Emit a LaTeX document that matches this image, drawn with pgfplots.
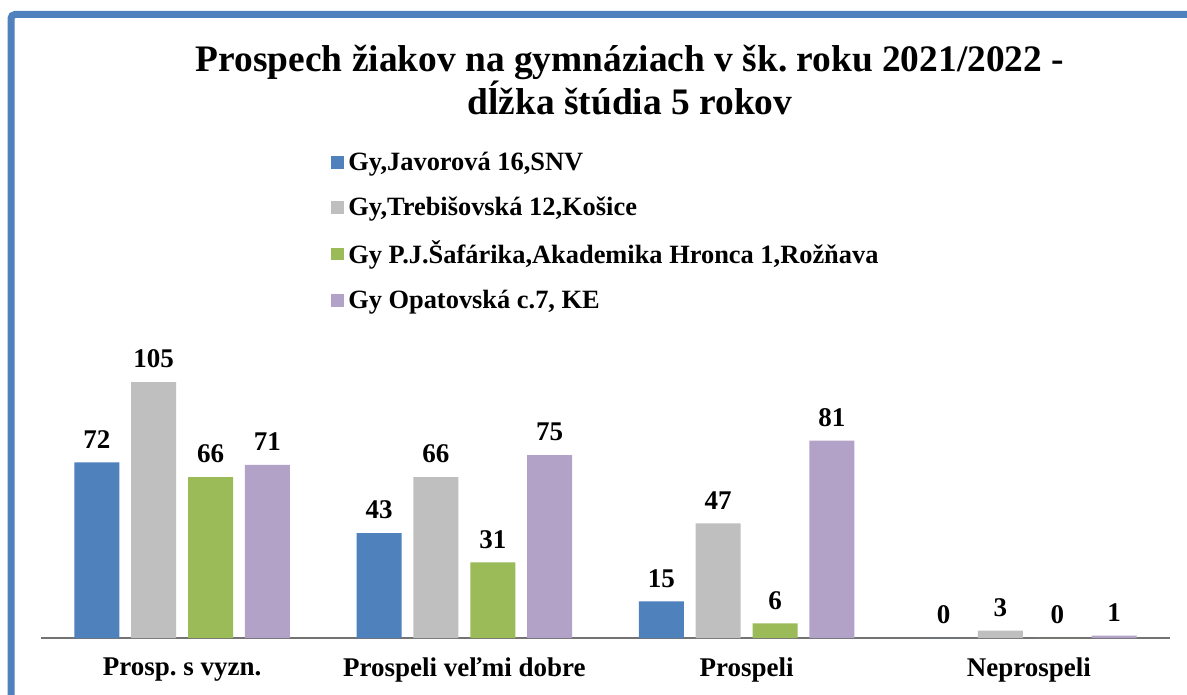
\documentclass[border=0pt]{standalone}
\usepackage{fontspec}
\setmainfont{Liberation Serif}
\usepackage{pgfplots}
\pgfplotsset{compat=1.18}
\definecolor{cblue}{HTML}{4F81BD}
\definecolor{cgray}{HTML}{BFBFBF}
\definecolor{cgreen}{HTML}{9BBB59}
\definecolor{cpurple}{HTML}{B3A2C7}
\definecolor{frameblue}{HTML}{4F81BD}
\frenchspacing
\begin{document}
\frenchspacing
\begin{tikzpicture}
\useasboundingbox (0,0) rectangle (593.5pt,347.5pt);
\fill[white] (0,0) rectangle (593.5pt,347.5pt);
\begin{scope}[x=0.5pt,y=-0.5pt,shift={(0,347.5pt)}]
\draw[frameblue,line width=3.5pt,rounded corners=2pt] (11,720) -- (11,14.5) -- (1220,14.5);
\node[font=\fontsize{18.7}{21}\selectfont\bfseries,anchor=base,inner sep=0pt] at (630,72) {Prospech žiakov na gymnáziach v šk. roku 2021/2022 -};
\node[font=\fontsize{18.7}{21}\selectfont\bfseries,anchor=base,inner sep=0pt] at (630,115) {dĺžka štúdia 5 rokov};
\end{scope}
\begin{axis}[
  at={(20.5pt,28.5pt)}, anchor=south west,
  scale only axis, width=564.5pt, height=146.25pt,
  xmin=-0.5, xmax=3.5, ymin=0, ymax=120,
  axis y line=none, axis x line*=bottom,
  x axis line style={draw=gray!90!black, line width=1pt},
  xtick={0,1,2,3}, major tick length=0pt,
  xticklabels={{Prosp.\ s vyzn.}, Prospeli veľmi dobre, Prospeli, Neprospeli},
  xticklabel style={font=\fontsize{13.5}{16}\selectfont\bfseries, yshift=-6.5pt},
  ytick=\empty,
  ybar, bar width=0.16,
  nodes near coords,
  /pgf/number format/assume math mode=true,
  every node near coord/.append style={font=\fontsize{13.5}{16}\selectfont\bfseries, black, yshift=3.5pt},
  legend style={at={(0.2516,1.69)}, anchor=north west, draw=none, fill=none,
    font=\fontsize{13.2}{15}\selectfont\bfseries, row sep=7.5pt,
    /tikz/every even column/.append style={column sep=0pt}},
  legend cell align=left,
  legend image code/.code={\fill[#1] (0pt,-3.2pt) rectangle (6.4pt,3.2pt);},
]
\addplot[fill=cblue, draw=none, bar shift=-0.302] coordinates {(0,72) (1,43) (2,15) (3,0)};
\addplot[fill=cgray, draw=none, bar shift=-0.101] coordinates {(0,105) (1,66) (2,47) (3,3)};
\addplot[fill=cgreen, draw=none, bar shift=0.101] coordinates {(0,66) (1,31) (2,6) (3,0)};
\addplot[fill=cpurple, draw=none, bar shift=0.302] coordinates {(0,71) (1,75) (2,81) (3,1)};
\legend{{Gy,Javorová 16,SNV}, {Gy,Trebišovská 12,Košice}, {Gy P.J.Šafárika,Akademika Hronca 1,Rožňava}, {Gy Opatovská c.7, KE}}
\end{axis}
\end{tikzpicture}
\end{document}
